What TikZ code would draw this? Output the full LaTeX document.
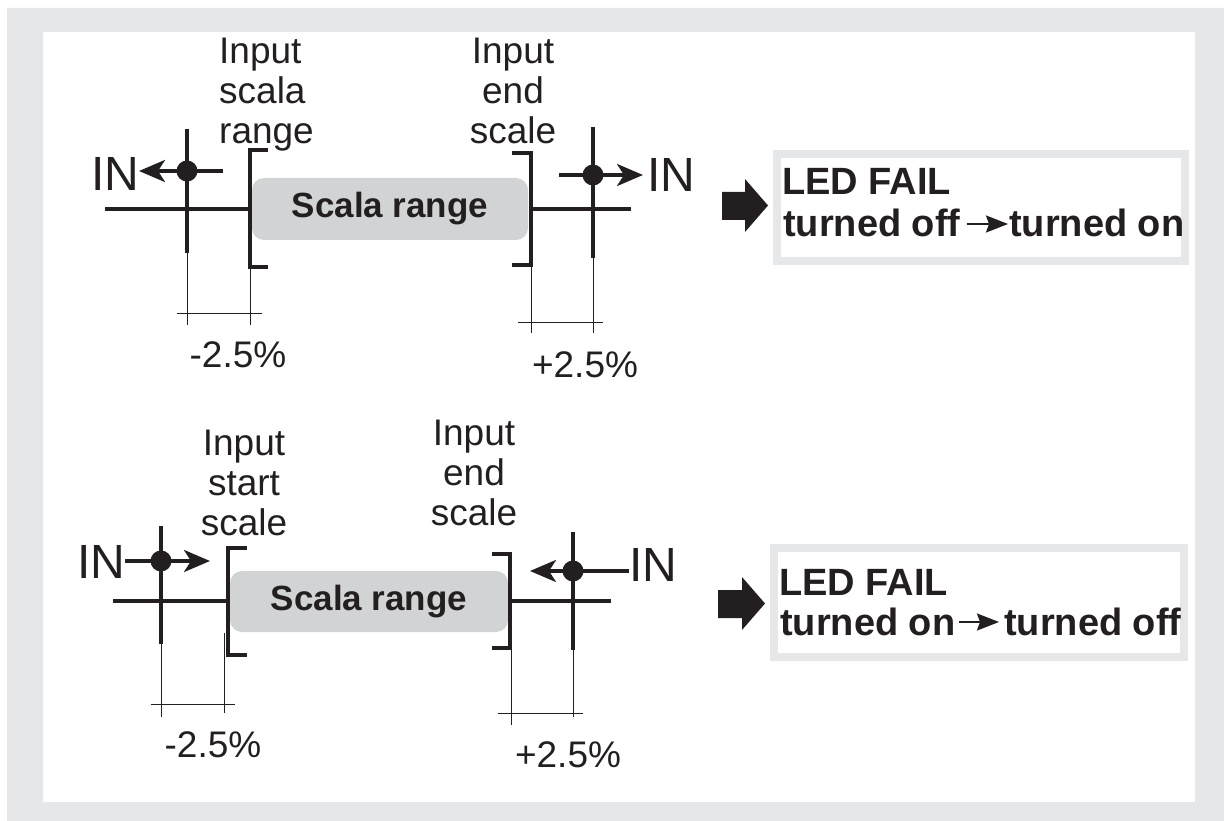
\documentclass[tikz,border=0pt]{standalone}
\usepackage{fontspec}
\setmainfont{Liberation Sans}
\usetikzlibrary{arrows.meta}
\definecolor{ink}{HTML}{231F20}
\definecolor{framegray}{HTML}{E6E7E8}
\definecolor{bargray}{HTML}{D1D3D4}
\begin{document}
\begin{tikzpicture}[x=1pt,y=-1pt,
  heavy/.style={draw=ink,line width=3.5pt},
  fine/.style={draw=ink,line width=0.9pt},
  dotnode/.style={circle,fill=ink,inner sep=0pt,minimum size=21pt},
  inarrow/.style={heavy,-{Stealth[length=26pt,width=22pt,inset=7pt]}},
  lbl/.style={inner sep=0pt,text=ink,font=\fontsize{37}{40}\selectfont},
  innode/.style={inner sep=0pt,text=ink,font=\fontsize{48}{48}\selectfont},
  barnode/.style={fill=bargray,rounded corners=12pt,inner sep=0pt,text=ink,
    font=\bfseries\fontsize{35}{40}\selectfont},
  ledtext/.style={inner sep=0pt,text=ink,font=\bfseries\fontsize{38}{44}\selectfont,anchor=base west},
  ledbox/.style={draw=framegray,line width=8pt,fill=white},
  textarrow/.style={draw=ink,line width=2pt,-{Stealth[length=22pt,width=17pt,inset=3pt]}},
  bigarrow/.style={fill=ink},
]
\useasboundingbox (0,0) rectangle (1224,821);
\fill[framegray,even odd rule] (7,8) rectangle (1224,821) (43,32) rectangle (1195,802);

% ================= TOP SECTION =================
\node[barnode,minimum width=276pt,minimum height=62pt] (bar1) at (390,209) {Scala range};
% brackets
\coordinate (lb1t) at (250,150); \coordinate (lb1b) at (250,267);
\coordinate (rb1t) at (531,153); \coordinate (rb1b) at (531,265);
\draw[heavy] (268,150) -- (lb1t) -- (lb1b) -- (268,267);
\draw[heavy] (512,153) -- (rb1t) -- (rb1b) -- (512,265);
% main axis
\coordinate (ax1l) at (105,209); \coordinate (ax1lb) at (250,209);
\coordinate (ax1rb) at (531,209); \coordinate (ax1r) at (631,209);
\draw[heavy] (ax1l) -- (ax1lb);
\draw[heavy] (ax1rb) -- (ax1r);
% left marker
\coordinate (v1lt) at (187,129); \coordinate (v1lm) at (187,253); \coordinate (v1lb) at (187,325);
\draw[heavy] (v1lt) -- (v1lm);
\draw[fine] (v1lm) -- (v1lb);
\node[dotnode] (d1l) at (187,171) {};
\coordinate (h1lr) at (223,171); \coordinate (h1lt) at (139,171);
\draw[heavy] (h1lr) -- (d1l.center);
\draw[inarrow] (d1l.center) -- (h1lt);
\node[innode] (in1l) at (115.5,174) {IN};
\coordinate (t1l) at (250,325);
\draw[fine] (lb1b) -- (t1l);
\coordinate (dm1la) at (177,313); \coordinate (dm1lb) at (262,313);
\draw[fine] (dm1la) -- (dm1lb);
\node[lbl] (p1l) at (238,355) {-2.5\%};
% right marker
\coordinate (v1rt) at (593,127); \coordinate (v1rm) at (593,258); \coordinate (v1rb) at (593,333);
\draw[heavy] (v1rt) -- (v1rm);
\draw[fine] (v1rm) -- (v1rb);
\node[dotnode] (d1r) at (593,175) {};
\coordinate (h1rl) at (559,175); \coordinate (h1rt) at (643,175);
\draw[heavy] (h1rl) -- (d1r.center);
\draw[inarrow] (d1r.center) -- (h1rt);
\node[innode] (in1r) at (671,175) {IN};
\coordinate (t1r) at (531,333);
\draw[fine] (rb1b) -- (t1r);
\coordinate (dm1ra) at (518,322); \coordinate (dm1rb) at (603,322);
\draw[fine] (dm1ra) -- (dm1rb);
\node[lbl] (p1r) at (585,365) {+2.5\%};
% labels
\node[lbl,anchor=north west,align=left] (lab1l) at (219,38) {Input\\scala\\range};
\node[lbl,anchor=north,align=center] (lab1r) at (513,38) {Input\\end\\scale};
% result
\fill[bigarrow] (722,192) -- (745,192) -- (745,179) -- (768,205.5) -- (745,232) -- (745,220) -- (722,220) -- cycle;
\draw[ledbox] (777,154) rectangle (1185,261);
\node[ledtext] (led1a) at (782,195) {LED FAIL};
\node[ledtext] (led1b) at (783,237) {turned off};
\node[ledtext] (led1c) at (1009,237) {turned on};
\draw[textarrow] ([xshift=6pt,yshift=13pt]led1b.base east) -- ([xshift=-1pt,yshift=13pt]led1c.base west);

% ================= BOTTOM SECTION =================
\node[barnode,minimum width=278pt,minimum height=61pt] (bar2) at (369,601.5) {Scala range};
\coordinate (lb2t) at (228,548); \coordinate (lb2b) at (228,655);
\coordinate (rb2t) at (510,554); \coordinate (rb2b) at (510,648);
\draw[heavy] (247,548) -- (lb2t) -- (lb2b) -- (247,655);
\draw[heavy] (492,554) -- (rb2t) -- (rb2b) -- (492,648);
\coordinate (ax2l) at (113,601); \coordinate (ax2lb) at (228,601);
\coordinate (ax2rb) at (510,601); \coordinate (ax2r) at (611,601);
\draw[heavy] (ax2l) -- (ax2lb);
\draw[heavy] (ax2rb) -- (ax2r);
% left marker
\coordinate (v2lt) at (161,526); \coordinate (v2lm) at (161,644); \coordinate (v2lb) at (161,717);
\draw[heavy] (v2lt) -- (v2lm);
\draw[fine] (v2lm) -- (v2lb);
\node[dotnode] (d2l) at (161,561) {};
\node[innode] (in2l) at (101,562) {IN};
\coordinate (h2lt) at (210,561);
\draw[heavy] (in2l.east |- d2l) -- (d2l.center);
\draw[inarrow] (d2l.center) -- (h2lt);
\coordinate (t2la) at (224,633); \coordinate (t2lb) at (224,713);
\draw[fine] (t2la) -- (t2lb);
\coordinate (dm2la) at (151,704); \coordinate (dm2lb) at (235,704);
\draw[fine] (dm2la) -- (dm2lb);
\node[lbl] (p2l) at (213,745) {-2.5\%};
% right marker
\coordinate (v2rt) at (573,532); \coordinate (v2rm) at (573,650); \coordinate (v2rb) at (573,717);
\draw[heavy] (v2rt) -- (v2rm);
\draw[fine] (v2rm) -- (v2rb);
\node[dotnode] (d2r) at (573,571) {};
\node[innode] (in2r) at (653,565) {IN};
\coordinate (h2rt) at (530,571);
\draw[heavy] (in2r.west |- d2r) -- (d2r.center);
\draw[inarrow] (d2r.center) -- (h2rt);
\coordinate (t2r) at (511,725);
\draw[fine] (511,648) -- (t2r);
\coordinate (dm2ra) at (498,713); \coordinate (dm2rb) at (583,713);
\draw[fine] (dm2ra) -- (dm2rb);
\node[lbl] (p2r) at (568,755) {+2.5\%};
% labels
\node[lbl,anchor=north,align=center] (lab2l) at (244,430) {Input\\start\\scale};
\node[lbl,anchor=north,align=center] (lab2r) at (474,420) {Input\\end\\scale};
% result
\fill[bigarrow] (718,590) -- (742,590) -- (742,577) -- (765,603.5) -- (742,630) -- (742,618) -- (718,618) -- cycle;
\draw[ledbox] (774,548) rectangle (1184,657);
\node[ledtext] (led2a) at (779,595) {LED FAIL};
\node[ledtext] (led2b) at (780,635) {turned on};
\node[ledtext] (led2c) at (1004,635) {turned off};
\draw[textarrow] ([xshift=3pt,yshift=13pt]led2b.base east) -- ([xshift=-5pt,yshift=13pt]led2c.base west);
\end{tikzpicture}
\end{document}
